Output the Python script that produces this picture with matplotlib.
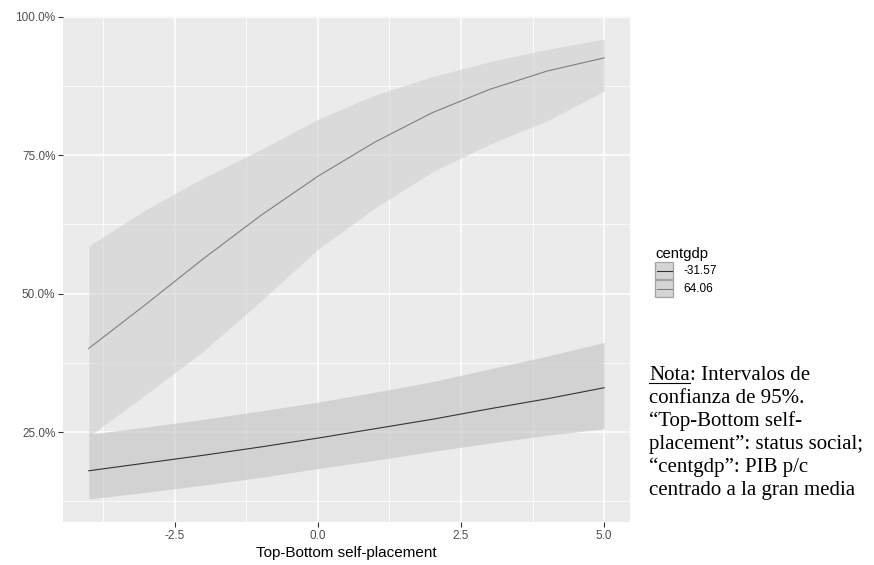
import matplotlib
matplotlib.use("Agg")
import matplotlib.pyplot as plt
from matplotlib.lines import Line2D
from matplotlib.patches import Rectangle
from matplotlib.ticker import FuncFormatter, MultipleLocator

# --- data (predicted probability, %) ---
placement = [-4, -3, -2, -1, 0, 1, 2, 3, 4, 5]
groups = ["-31.57", "64.06"]

fit_low = [18.0, 19.4, 20.8, 22.3, 23.9, 25.6, 27.3, 29.2, 31.0, 33.0]
lo_low = [12.9, 14.1, 15.4, 16.8, 18.4, 19.9, 21.5, 23.0, 24.4, 25.6]
hi_low = [24.6, 25.9, 27.3, 28.8, 30.4, 32.2, 34.1, 36.4, 38.7, 41.2]

fit_high = [40.1, 48.1, 56.3, 64.1, 71.2, 77.4, 82.7, 86.9, 90.2, 92.6]
lo_high = [24.2, 31.8, 39.6, 48.6, 58.0, 65.5, 72.0, 77.0, 81.2, 86.6]
hi_high = [58.6, 65.2, 70.9, 76.0, 81.5, 85.9, 89.2, 91.9, 94.1, 96.0]

line_cols = ["#333333", "#7f7f7f"]
ribbon_cols = ["#c2c2c2", "#cfcfcf"]

plt.rcParams["font.family"] = ["Liberation Sans", "DejaVu Sans"]

W, H = 874, 565
fig = plt.figure(figsize=(W / 100, H / 100), dpi=100)


def fx(px):
    return px / W


def fy(py):
    return 1 - py / H


ax = fig.add_axes([fx(63), fy(522), (630 - 63) / W, (522 - 16) / H])
ax.set_facecolor("#ebebeb")
for s in ax.spines.values():
    s.set_visible(False)

ax.fill_between(placement, lo_high, hi_high, color=ribbon_cols[1], alpha=0.6, lw=0, zorder=2)
ax.fill_between(placement, lo_low, hi_low, color=ribbon_cols[0], alpha=0.6, lw=0, zorder=2)
ax.plot(placement, fit_low, color=line_cols[0], lw=0.8, zorder=3)
ax.plot(placement, fit_high, color=line_cols[1], lw=0.8, zorder=3)

ax.margins(x=0.05, y=0.05)
ax.xaxis.set_major_locator(MultipleLocator(2.5))
ax.xaxis.set_minor_locator(MultipleLocator(1.25))
ax.yaxis.set_major_locator(MultipleLocator(25))
ax.yaxis.set_minor_locator(MultipleLocator(12.5))
ax.yaxis.set_major_formatter(FuncFormatter(lambda v, p: f"{v:.1f}%"))
ax.xaxis.set_major_formatter(FuncFormatter(lambda v, p: f"{v:.1f}"))
ax.set_axisbelow(True)
ax.grid(which="major", color="white", lw=1.1, zorder=1)
ax.grid(which="minor", color="white", lw=0.55, zorder=1)
ax.tick_params(which="major", length=3.5, width=0.8, color="#333333",
               labelcolor="#4d4d4d", labelsize=8.5, pad=2)
ax.tick_params(which="minor", length=0)
ax.set_xlabel("Top-Bottom self-placement", fontsize=11, color="black", labelpad=3)

# legend, drawn by hand to get ggplot-like keys
fig.text(fx(655), fy(258), "centgdp", fontsize=10.7, va="baseline")
key_top = 262
for i, (lab, lc) in enumerate(zip(groups, line_cols)):
    top = key_top + i * 18
    fig.add_artist(Rectangle((fx(655), fy(top + 17)), 18 / W, 17 / H,
                             facecolor="#d5d5d5", edgecolor="#a3a3a3", lw=0.9))
    fig.add_artist(Line2D([fx(656.5), fx(671.5)], [fy(top + 8.5)] * 2, color=lc, lw=0.8))
    fig.text(fx(683), fy(top + 8.5), lab, fontsize=8.5, va="center")

# note (underlined "Nota")
serif = ["Liberation Serif", "DejaVu Serif"]
fs = 15
x0 = fx(649)
y0 = fy(380)
t = fig.text(x0, y0, "Nota", family=serif, fontsize=fs, va="baseline")
fig.canvas.draw()
bb = t.get_window_extent()
fig.text(bb.x1 / W, y0, ": Intervalos de", family=serif, fontsize=fs, va="baseline")
fig.add_artist(Line2D([bb.x0 / W, bb.x1 / W], [y0 - 2.5 / H, y0 - 2.5 / H],
                      color="black", lw=0.8))
rest = ["confianza de 95%.",
        "\u201cTop-Bottom self-",
        "placement\u201d: status social;",
        "\u201ccentgdp\u201d: PIB p/c",
        "centrado a la gran media"]
for i, line in enumerate(rest):
    fig.text(x0, y0 - (i + 1) * 23 / H, line, family=serif, fontsize=fs, va="baseline")

fig.savefig("out.png", dpi=100)
